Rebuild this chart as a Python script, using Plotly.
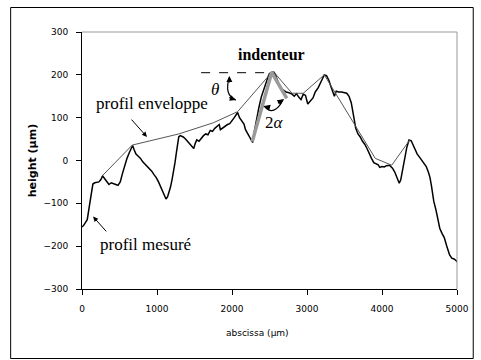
import plotly.graph_objects as go

# Measured surface profile (abscissa in µm, height in µm)
profile_x = [0, 20, 45, 70, 95, 120, 145, 170, 200, 225, 250, 275, 300, 330, 360, 390, 420, 450, 480, 510,
             540, 570, 600, 630, 655, 675, 695, 720, 750, 780, 810, 840, 870, 900, 930, 960, 990, 1020, 1050, 1080,
             1100, 1120, 1140, 1160, 1180, 1200, 1220, 1240, 1260, 1280, 1290, 1310, 1330, 1350, 1380, 1410, 1440, 1470, 1490, 1510,
             1530, 1560, 1590, 1620, 1650, 1680, 1710, 1740, 1770, 1800, 1830, 1845, 1870, 1900, 1940, 1970, 2000, 2030, 2060, 2075,
             2100, 2130, 2160, 2180, 2200, 2230, 2260, 2275, 2300, 2330, 2360, 2390, 2420, 2450, 2480, 2500, 2530, 2560, 2580, 2610,
             2640, 2680, 2720, 2760, 2800, 2830, 2860, 2890, 2920, 2950, 2980, 3010, 3040, 3080, 3110, 3150, 3190, 3230, 3260, 3290,
             3320, 3345, 3365, 3390, 3420, 3460, 3500, 3530, 3560, 3590, 3610, 3630, 3650, 3680, 3710, 3740, 3770, 3800, 3830, 3860,
             3890, 3920, 3950, 3970, 4000, 4030, 4060, 4100, 4140, 4170, 4200, 4230, 4250, 4270, 4300, 4330, 4360, 4390, 4410, 4440,
             4470, 4500, 4530, 4560, 4590, 4620, 4640, 4660, 4690, 4720, 4750, 4770, 4800, 4830, 4860, 4880, 4900, 4930, 4960, 4990, 5000]
profile_y = [-155, -152, -145, -138, -110, -80, -55, -52, -50, -50, -45, -36, -42, -50, -56, -52, -55, -56, -58, -50,
             -30, -10, 5, 18, 28, 35, 25, 15, 10, 5, -3, -8, -14, -20, -25, -33, -40, -50, -62, -75,
             -84, -90, -85, -75, -62, -45, -28, -5, 20, 45, 55, 58, 57, 55, 50, 44, 38, 32, 28, 40,
             48, 45, 52, 58, 62, 60, 70, 68, 75, 80, 84, 72, 75, 80, 84, 86, 92, 100, 108, 112,
             100, 92, 85, 72, 65, 55, 45, 42, 70, 100, 125, 148, 165, 180, 195, 203, 206, 206, 200, 185,
             172, 165, 160, 158, 155, 150, 156, 148, 142, 155, 152, 132, 138, 146, 160, 170, 185, 200, 198, 188,
             172, 158, 150, 162, 160, 160, 158, 157, 150, 135, 115, 90, 75, 62, 55, 45, 38, 28, 15, 5,
             -5, -8, -10, -16, -14, -15, -12, -11, -18, -27, -40, -53, -45, -25, 5, 30, 48, 46, 38, 25,
             15, 8, 0, -5, -14, -28, -40, -60, -95, -116, -140, -158, -170, -180, -198, -210, -220, -228, -230, -234, -237]

# Envelope profile (bridging the valleys)
envelope_x = [258, 670, 1290, 1750, 2075, 2530, 2560, 2800, 2950, 3230, 3910, 4130, 4370]
envelope_y = [-38, 36, 62, 88, 114, 206, 206, 157, 157, 200, 5, -11, 48]

# Indenter flanks (apex at the profile summit)
indenter_x = [2270, 2530, 2730]
indenter_y = [44, 206, 145]

x_ticks = [0, 1000, 2000, 3000, 4000, 5000]
y_ticks = [-300, -200, -100, 0, 100, 200, 300]

serif = "Liberation Serif"
sans = "DejaVu Sans"

W, H = 481, 360
ML, MR, MT, MB = 82, 18, 32, 71
PW, PH = W - ML - MR, H - MT - MB


def px_to_paper_x(px):
    return (px - ML) / PW


def px_to_paper_y(py):
    return (H - MB - py) / PH


fig = go.Figure()
fig.add_trace(go.Scatter(x=profile_x, y=profile_y, mode="lines",
                         line=dict(color="black", width=1.5), hoverinfo="skip"))
fig.add_trace(go.Scatter(x=envelope_x, y=envelope_y, mode="lines",
                         line=dict(color="#555555", width=1), hoverinfo="skip"))
fig.add_trace(go.Scatter(x=indenter_x, y=indenter_y, mode="lines",
                         line=dict(color="#9a9a9a", width=3.5), hoverinfo="skip"))

shapes = [
    # horizontal reference for theta
    dict(type="line", xref="x", yref="y", x0=1588, y0=205, x1=2507, y1=205,
         line=dict(color="black", width=1, dash="dash")),
    # theta arc
    dict(type="path", xref="x", yref="y", path="M 1965,194 Q 1890,153 2051,141",
         line=dict(color="black", width=1.2)),
    # 2 alpha arc
    dict(type="path", xref="x", yref="y", path="M 2428,127 Q 2559,100 2686,143",
         line=dict(color="black", width=1.2)),
    # top and right frame of the plot area
    dict(type="line", xref="paper", yref="paper", x0=0, y0=1, x1=1, y1=1,
         line=dict(color="#999999", width=1)),
    dict(type="line", xref="paper", yref="paper", x0=1, y0=0, x1=1, y1=1,
         line=dict(color="#999999", width=1)),
    # outer chart border
    dict(type="rect", xref="paper", yref="paper",
         x0=px_to_paper_x(9.5), y0=px_to_paper_y(358.5),
         x1=px_to_paper_x(479.5), y1=px_to_paper_y(7.5),
         line=dict(color="black", width=1)),
]

annotations = [
    dict(x=866, y=55, ax=643, ay=99, axref="x", ayref="y", xref="x", yref="y",
         showarrow=True, arrowhead=2, arrowsize=1, arrowwidth=1, arrowcolor="black", text=""),
    dict(x=148, y=-131, ax=341, ay=-169, axref="x", ayref="y", xref="x", yref="y",
         showarrow=True, arrowhead=2, arrowsize=1, arrowwidth=1, arrowcolor="black", text=""),
    # arrowheads of the theta arc
    dict(x=1965, y=197, ax=0, ay=8, xref="x", yref="y", showarrow=True, arrowhead=2,
         arrowsize=1, arrowwidth=1.2, arrowcolor="black", text=""),
    dict(x=2051, y=141, ax=-8, ay=-3, xref="x", yref="y", showarrow=True, arrowhead=2,
         arrowsize=1, arrowwidth=1.2, arrowcolor="black", text=""),
    # arrowheads of the 2 alpha arc
    dict(x=2428, y=127, ax=7, ay=2, xref="x", yref="y", showarrow=True, arrowhead=2,
         arrowsize=1, arrowwidth=1.2, arrowcolor="black", text=""),
    dict(x=2686, y=143, ax=-7, ay=5, xref="x", yref="y", showarrow=True, arrowhead=2,
         arrowsize=1, arrowwidth=1.2, arrowcolor="black", text=""),
    dict(x=932, y=134, xref="x", yref="y", text="profil enveloppe", showarrow=False,
         font=dict(family=serif, size=17, color="black")),
    dict(x=853, y=-197, xref="x", yref="y", text="profil mesuré", showarrow=False,
         font=dict(family=serif, size=17, color="black")),
    dict(x=2533, y=247, xref="x", yref="y", text="<b>indenteur</b>", showarrow=False,
         font=dict(family=serif, size=16, color="black")),
    dict(x=1767, y=165, xref="x", yref="y", text="<i>θ</i>", showarrow=False,
         font=dict(family=serif, size=17, color="black")),
    dict(x=2572, y=88, xref="x", yref="y", text="2<i>α</i>", showarrow=False,
         font=dict(family=serif, size=17, color="black")),
    # axis titles
    dict(x=px_to_paper_x(32), y=0.5, xref="paper", yref="paper", xanchor="center", yanchor="middle",
         text="<b>height (µm)</b>", textangle=-90,
         showarrow=False, font=dict(family=sans, size=11, color="black")),
    dict(x=px_to_paper_x(260), y=px_to_paper_y(333), xref="paper", yref="paper",
         xanchor="center", yanchor="middle", text="abscissa (µm)",
         showarrow=False, font=dict(family=sans, size=9, color="black")),
]

fig.update_layout(
    width=W, height=H,
    margin=dict(l=ML, r=MR, t=MT, b=MB),
    paper_bgcolor="white", plot_bgcolor="white",
    showlegend=False,
    shapes=shapes,
    annotations=annotations,
    xaxis=dict(range=[0, 5000], tickvals=x_ticks, showgrid=False, zeroline=False,
               showline=True, linecolor="black", linewidth=1,
               ticks="outside", ticklen=5, tickcolor="black", ticklabelstandoff=6,
               tickfont=dict(family=sans, size=9, color="black")),
    yaxis=dict(range=[-300, 300], tickvals=y_ticks, showgrid=False, zeroline=False,
               showline=True, linecolor="black", linewidth=1,
               ticks="outside", ticklen=5, tickcolor="black", ticklabelstandoff=6,
               tickfont=dict(family=sans, size=9, color="black")),
)

fig.write_html("out.html")
